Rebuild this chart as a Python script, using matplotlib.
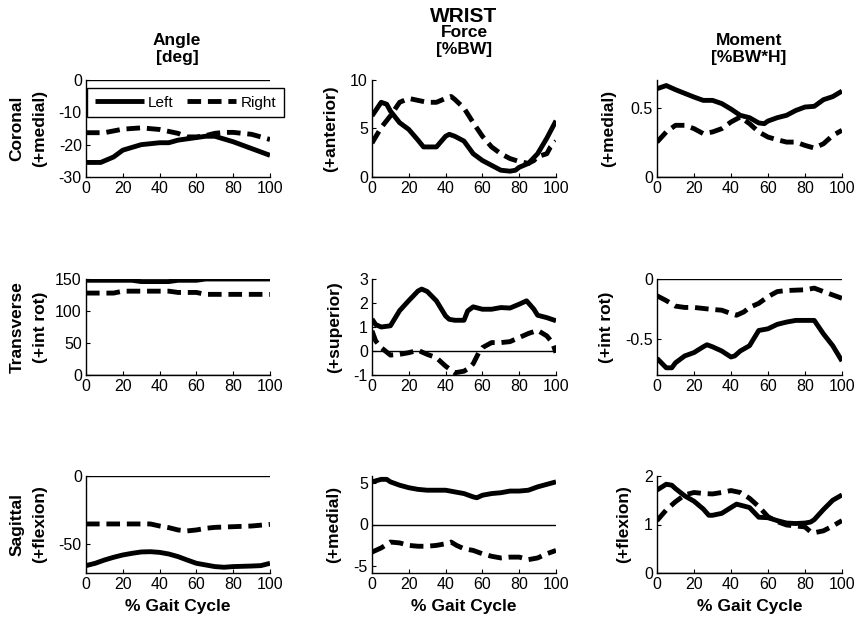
import matplotlib
matplotlib.use("Agg")
import matplotlib.pyplot as plt
import numpy as np

plt.rcParams['font.family'] = ['Liberation Sans', 'DejaVu Sans']

# ---------------- data ----------------
# Angle - Coronal
ang_cor_L_x = [0, 8, 15, 20, 30, 40, 45, 50, 60, 65, 70, 80, 90, 100]
ang_cor_L_y = [-25.5, -25.5, -23.8, -21.7, -20.0, -19.4, -19.4, -18.6, -17.8, -17.4, -17.4, -19.1, -21.2, -23.3]
ang_cor_R_x = [0, 10, 20, 30, 40, 50, 55, 60, 65, 70, 75, 80, 90, 100]
ang_cor_R_y = [-16.3, -16.3, -15.2, -14.8, -15.3, -16.5, -17.6, -17.6, -17.2, -16.5, -16.2, -16.2, -16.8, -18.4]

# Force - Coronal
frc_cor_L_x = [0, 5, 8, 10, 15, 20, 25, 28, 35, 40, 42, 45, 50, 55, 60, 65, 70, 75, 78, 80, 85, 90, 95, 100]
frc_cor_L_y = [6.3, 7.7, 7.5, 6.8, 5.6, 4.9, 3.8, 3.1, 3.1, 4.2, 4.4, 4.2, 3.7, 2.4, 1.7, 1.2, 0.7, 0.6, 0.7, 1.0, 1.4, 2.4, 4.0, 5.8]
frc_cor_R_x = [0, 5, 10, 15, 20, 25, 30, 35, 40, 43, 45, 50, 55, 60, 65, 70, 75, 80, 85, 88, 90, 95, 97, 100]
frc_cor_R_y = [3.5, 5.1, 6.3, 7.7, 8.1, 7.9, 7.7, 7.7, 8.1, 8.3, 8.0, 7.1, 5.6, 4.2, 3.1, 2.4, 1.9, 1.6, 1.4, 1.7, 2.1, 2.4, 3.1, 3.7]

# Moment - Coronal
mom_cor_L_x = [0, 5, 10, 20, 25, 30, 35, 40, 45, 50, 55, 58, 60, 65, 70, 75, 80, 85, 90, 95, 100]
mom_cor_L_y = [0.637, 0.66, 0.63, 0.577, 0.553, 0.553, 0.53, 0.49, 0.445, 0.428, 0.39, 0.385, 0.404, 0.428, 0.445, 0.48, 0.505, 0.51, 0.558, 0.58, 0.62]
mom_cor_R_x = [0, 5, 10, 15, 20, 25, 30, 35, 40, 45, 50, 55, 60, 65, 70, 75, 80, 85, 90, 95, 100]
mom_cor_R_y = [0.252, 0.325, 0.373, 0.373, 0.349, 0.313, 0.325, 0.349, 0.397, 0.433, 0.385, 0.325, 0.288, 0.269, 0.252, 0.252, 0.228, 0.209, 0.24, 0.3, 0.337]

# Angle - Transverse
ang_tra_L_x = [0, 25, 30, 45, 50, 60, 65, 100]
ang_tra_L_y = [148, 148, 146, 146, 148, 148, 150, 150]
ang_tra_R_x = [0, 15, 20, 45, 50, 60, 65, 100]
ang_tra_R_y = [128, 128, 131, 131, 129, 129, 126, 126]

# Force - Transverse
frc_tra_L_x = [0, 2, 5, 10, 15, 20, 25, 27, 30, 35, 40, 42, 45, 50, 52, 55, 60, 65, 70, 75, 80, 84, 88, 90, 95, 100]
frc_tra_L_y = [1.33, 1.1, 1.0, 1.05, 1.68, 2.1, 2.5, 2.58, 2.48, 2.09, 1.46, 1.32, 1.28, 1.28, 1.67, 1.84, 1.74, 1.74, 1.81, 1.79, 1.95, 2.09, 1.74, 1.49, 1.39, 1.26]
frc_tra_R_x = [0, 2, 5, 10, 15, 20, 25, 30, 35, 40, 45, 50, 53, 55, 58, 60, 65, 70, 75, 80, 85, 90, 95, 98, 100]
frc_tra_R_y = [0.84, 0.42, 0.14, -0.17, -0.14, -0.07, 0.03, -0.14, -0.28, -0.63, -0.91, -0.84, -0.70, -0.53, -0.07, 0.14, 0.35, 0.35, 0.39, 0.56, 0.73, 0.86, 0.63, 0.35, -0.07]

# Moment - Transverse
mom_tra_L_x = [0, 5, 8, 10, 15, 20, 25, 27, 30, 35, 40, 42, 45, 50, 55, 60, 65, 70, 75, 80, 85, 90, 95, 100]
mom_tra_L_y = [-0.661, -0.74, -0.74, -0.698, -0.641, -0.613, -0.565, -0.548, -0.565, -0.6, -0.65, -0.641, -0.6, -0.556, -0.429, -0.415, -0.378, -0.359, -0.345, -0.345, -0.345, -0.458, -0.556, -0.684]
mom_tra_R_x = [0, 5, 10, 15, 20, 30, 35, 40, 43, 47, 50, 55, 60, 65, 70, 80, 85, 90, 95, 100]
mom_tra_R_y = [-0.14, -0.18, -0.226, -0.237, -0.237, -0.254, -0.26, -0.288, -0.302, -0.274, -0.237, -0.203, -0.147, -0.105, -0.096, -0.09, -0.076, -0.105, -0.133, -0.161]

# Angle - Sagittal
ang_sag_L_x = [0, 5, 10, 15, 20, 25, 30, 35, 40, 45, 50, 55, 60, 65, 70, 75, 80, 90, 95, 100]
ang_sag_L_y = [-65.6, -63.9, -61.5, -59.5, -57.8, -56.6, -55.6, -55.4, -55.9, -57.1, -59.0, -61.5, -63.9, -65.1, -66.3, -66.8, -66.3, -65.9, -65.6, -63.9]
ang_sag_R_x = [0, 35, 40, 45, 50, 55, 60, 65, 70, 80, 90, 100]
ang_sag_R_y = [-35.1, -35.1, -36.6, -37.8, -39.5, -40.2, -39.5, -38.3, -37.6, -37.1, -36.6, -35.4]

# Force - Sagittal
frc_sag_L_x = [0, 5, 8, 10, 15, 20, 25, 30, 40, 45, 50, 55, 57, 60, 65, 70, 75, 80, 85, 90, 95, 100]
frc_sag_L_y = [5.1, 5.4, 5.4, 5.1, 4.7, 4.4, 4.2, 4.1, 4.1, 3.9, 3.7, 3.3, 3.2, 3.5, 3.7, 3.8, 4.0, 4.0, 4.1, 4.5, 4.8, 5.1]
frc_sag_R_x = [0, 5, 10, 15, 20, 25, 30, 35, 40, 43, 46, 50, 55, 60, 65, 70, 75, 80, 85, 90, 95, 100]
frc_sag_R_y = [-3.3, -2.8, -2.1, -2.2, -2.5, -2.6, -2.6, -2.5, -2.3, -2.1, -2.5, -2.9, -3.1, -3.5, -3.8, -4.0, -3.9, -3.9, -4.2, -4.0, -3.5, -3.1]

# Moment - Sagittal
mom_sag_L_x = [0, 5, 8, 10, 15, 20, 25, 28, 30, 35, 40, 43, 45, 50, 55, 60, 65, 70, 75, 80, 83, 85, 90, 95, 100]
mom_sag_L_y = [1.71, 1.83, 1.81, 1.74, 1.59, 1.48, 1.32, 1.19, 1.19, 1.23, 1.35, 1.42, 1.40, 1.35, 1.15, 1.14, 1.08, 1.03, 1.02, 1.03, 1.05, 1.10, 1.31, 1.50, 1.61]
mom_sag_R_x = [0, 5, 10, 15, 20, 25, 30, 35, 40, 45, 50, 55, 60, 65, 70, 75, 80, 83, 85, 90, 95, 100]
mom_sag_R_y = [1.08, 1.30, 1.47, 1.61, 1.66, 1.64, 1.63, 1.66, 1.70, 1.66, 1.54, 1.37, 1.16, 1.06, 0.99, 0.97, 0.95, 0.85, 0.83, 0.87, 0.97, 1.08]

col_titles = ["Angle\n[deg]", "Force\n[%BW]", "Moment\n[%BW*H]"]
row_names = ["Coronal", "Transverse", "Sagittal"]
row_dirs = [["(+medial)", "(+anterior)", "(+medial)"],
            ["(+int rot)", "(+superior)", "(+int rot)"],
            ["(+flexion)", "(+medial)", "(+flexion)"]]
xticks = [0, 20, 40, 60, 80, 100]

panels = [
    [(ang_cor_L_x, ang_cor_L_y, ang_cor_R_x, ang_cor_R_y, (-30, 0), [-30, -20, -10, 0], ["-30", "-20", "-10", "0"]),
     (frc_cor_L_x, frc_cor_L_y, frc_cor_R_x, frc_cor_R_y, (0, 10), [0, 5, 10], ["0", "5", "10"]),
     (mom_cor_L_x, mom_cor_L_y, mom_cor_R_x, mom_cor_R_y, (0, 0.7), [0, 0.5], ["0", "0.5"])],
    [(ang_tra_L_x, ang_tra_L_y, ang_tra_R_x, ang_tra_R_y, (0, 150), [0, 50, 100, 150], ["0", "50", "100", "150"]),
     (frc_tra_L_x, frc_tra_L_y, frc_tra_R_x, frc_tra_R_y, (-1, 3), [-1, 0, 1, 2, 3], ["-1", "0", "1", "2", "3"]),
     (mom_tra_L_x, mom_tra_L_y, mom_tra_R_x, mom_tra_R_y, (-0.8, 0), [-0.5, 0], ["-0.5", "0"])],
    [(ang_sag_L_x, ang_sag_L_y, ang_sag_R_x, ang_sag_R_y, (-71, 0), [-50, 0], ["-50", "0"]),
     (frc_sag_L_x, frc_sag_L_y, frc_sag_R_x, frc_sag_R_y, (-5.8, 5.8), [-5, 0, 5], ["-5", "0", "5"]),
     (mom_sag_L_x, mom_sag_L_y, mom_sag_R_x, mom_sag_R_y, (0, 2), [0, 1, 2], ["0", "1", "2"])],
]

W, H = 859, 620
fig = plt.figure(figsize=(W / 100, H / 100), dpi=100)

col_left = [86, 372, 657]
col_w = [184, 184, 185]
row_top = [80, 279, 476]
row_h = [97, 96, 97]

dash = (0, (2.8, 1.4))
lw = 3.5
fs = 11.5      # tick labels
bfs = 12.5     # bold labels / titles

ylab_x = [[40, 331, 609], [40, 335, 607], [40, 334, 624]]

for r in range(3):
    for c in range(3):
        Lx, Ly, Rx, Ry, ylim, yt, ytl = panels[r][c]
        l, w, t, h = col_left[c], col_w[c], row_top[r], row_h[r]
        ax = fig.add_axes([l / W, 1 - (t + h) / H, w / W, h / H])
        ax.axhline(0, color='black', lw=1.0, zorder=1)
        ax.plot(Lx, Ly, color='black', lw=lw, solid_capstyle='butt', label='Left', zorder=3)
        ax.plot(Rx, Ry, color='black', lw=lw, linestyle=dash, dash_capstyle='butt', label='Right', zorder=3)
        ax.set_xlim(0, 100)
        ax.set_ylim(*ylim)
        ax.set_xticks(xticks)
        ax.set_xticklabels([str(v) for v in xticks])
        ax.set_yticks(yt)
        ax.set_yticklabels(ytl)
        ax.spines['top'].set_visible(False)
        ax.spines['right'].set_visible(False)
        for s in ('left', 'bottom'):
            ax.spines[s].set_linewidth(1.0)
        ax.tick_params(direction='in', length=3, width=0.8, labelsize=fs, pad=3, colors='black')
        ax.patch.set_alpha(0)
        cy = t + h / 2
        fig.text(ylab_x[r][c] / W, 1 - cy / H, row_dirs[r][c], rotation=90, ha='center', va='center',
                 fontsize=bfs, fontweight='bold')
        if c == 0:
            fig.text(17 / W, 1 - cy / H, row_names[r], rotation=90, ha='center', va='center',
                     fontsize=bfs, fontweight='bold')
        if r == 2:
            fig.text((l + w / 2) / W, 1 - 607 / H, "% Gait Cycle", ha='center', va='center',
                     fontsize=bfs, fontweight='bold')
        if r == 0 and c == 0:
            leg = ax.legend(loc='upper left', bbox_to_anchor=(87 / W, 1 - 88 / H),
                            bbox_transform=fig.transFigure, ncol=2, fontsize=11,
                            frameon=True, fancybox=False, edgecolor='black', framealpha=1,
                            handlelength=3.2, columnspacing=0.9, handletextpad=0.3,
                            borderpad=0.5, borderaxespad=0)
            leg.get_frame().set_linewidth(1.0)

# column titles
fig.text(177 / W, 1 - 49 / H, col_titles[0], ha='center', va='center', fontsize=bfs, fontweight='bold', linespacing=1.15)
fig.text(464 / W, 1 - 41 / H, col_titles[1], ha='center', va='center', fontsize=bfs, fontweight='bold', linespacing=1.1)
fig.text(749 / W, 1 - 49 / H, col_titles[2], ha='center', va='center', fontsize=bfs, fontweight='bold', linespacing=1.15)
fig.text(464 / W, 1 - 17 / H, "WRIST", ha='center', va='center', fontsize=15, fontweight='bold')

fig.savefig("out.png", dpi=100)
